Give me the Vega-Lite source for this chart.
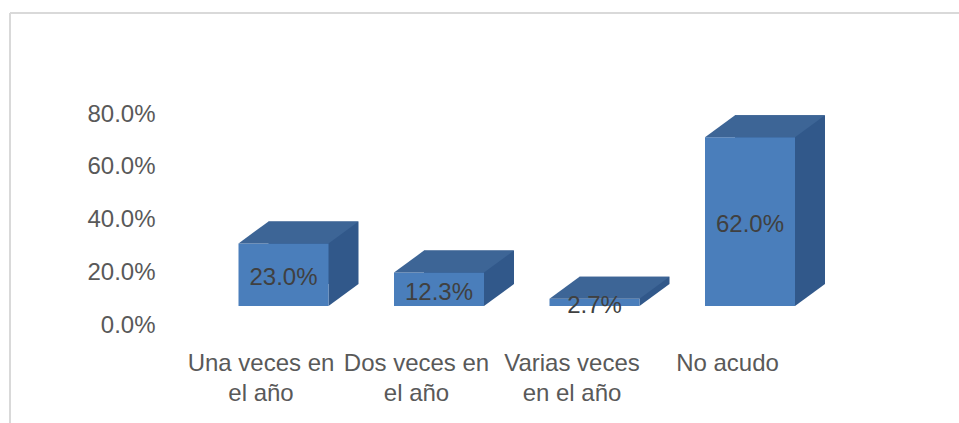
{
  "$schema": "https://vega.github.io/schema/vega-lite/v6.json",
  "width": 949,
  "height": 410,
  "autosize": {"type": "none"},
  "padding": {"left": 10, "top": 13, "right": 0, "bottom": 0},
  "background": "white",
  "config": {
    "view": {"stroke": "#d9d9d9", "strokeWidth": 2, "strokeDash": [949, 1359, 410, 0]},
    "font": "Liberation Sans"
  },
  "data": {
    "values": [
      {"cat": "Una veces en el año", "v": 0.23},
      {"cat": "Dos veces en el año", "v": 0.123},
      {"cat": "Varias veces en el año", "v": 0.027},
      {"cat": "No acudo", "v": 0.62}
    ]
  },
  "encoding": {
    "x": {
      "field": "cat",
      "type": "nominal",
      "sort": null,
      "scale": {"range": [173.25, 795.25], "paddingInner": 0, "paddingOuter": 0},
      "axis": {
        "title": null,
        "orient": "bottom",
        "offset": -72,
        "labelPadding": 0,
        "ticks": false,
        "domain": false,
        "grid": false,
        "labelAngle": 0,
        "labelFontSize": 24,
        "labelColor": "#595959",
        "labelLineHeight": 30,
        "labelLimit": 400,
        "labelExpr": "datum.value == 'No acudo' ? 'No acudo' : datum.value == 'Varias veces en el año' ? ['Varias veces', 'en el año'] : [replace(datum.value, ' el año', ''), 'el año']"
      }
    }
  },
  "layer": [
    {
      "mark": {"type": "point", "opacity": 0},
      "encoding": {
        "y": {
          "field": "v",
          "type": "quantitative",
          "scale": {"domain": [0, 0.8], "range": [312, 101], "nice": false},
          "axis": {
            "title": null,
            "orient": "left",
            "offset": -145,
            "values": [0, 0.2, 0.4, 0.6, 0.8],
            "format": ".1%",
            "labelFontSize": 24,
            "labelColor": "#595959",
            "ticks": false,
            "domain": false,
            "grid": false,
            "labelPadding": 0
          }
        }
      }
    },
    {
      "mark": {"type": "bar", "color": "#31588A", "width": 90, "xOffset": 52.5, "yOffset": -22},
      "encoding": {
        "y": {"field": "v", "type": "quantitative", "scale": {"domain": [0, 0.8], "range": [293, 75.4], "nice": false}, "axis": null}
      }
    },
    {
      "mark": {"type": "point", "shape": "M45,0L75,-22L45,-22Z", "size": 4, "filled": true, "opacity": 1, "color": "#31588A", "strokeWidth": 0, "xOffset": 22.5},
      "encoding": {
        "y": {"datum": 0, "type": "quantitative", "scale": {"domain": [0, 0.8], "range": [293, 75.4], "nice": false}, "axis": null}
      }
    },
    {
      "mark": {"type": "bar", "color": "#4A7EBB", "width": 90, "xOffset": 22.5},
      "encoding": {
        "y": {"field": "v", "type": "quantitative", "scale": {"domain": [0, 0.8], "range": [293, 75.4], "nice": false}, "axis": null}
      }
    },
    {
      "mark": {"type": "point", "shape": "M-45,0L45,0L75,-22L-15,-22Z", "size": 4, "filled": true, "opacity": 1, "color": "#3D6596", "strokeWidth": 0, "xOffset": 22.5},
      "encoding": {
        "y": {"field": "v", "type": "quantitative", "scale": {"domain": [0, 0.8], "range": [293, 75.4], "nice": false}, "axis": null}
      }
    },
    {
      "mark": {"type": "text", "fontSize": 24, "color": "#404040", "xOffset": 22.5, "dy": 3.5, "baseline": "middle"},
      "encoding": {
        "y": {"field": "v", "type": "quantitative", "scale": {"domain": [0, 1.6], "range": [293, 75.4], "nice": false}, "axis": null},
        "text": {"field": "v", "type": "quantitative", "format": ".1%"}
      }
    }
  ],
  "resolve": {"scale": {"y": "independent"}}
}
